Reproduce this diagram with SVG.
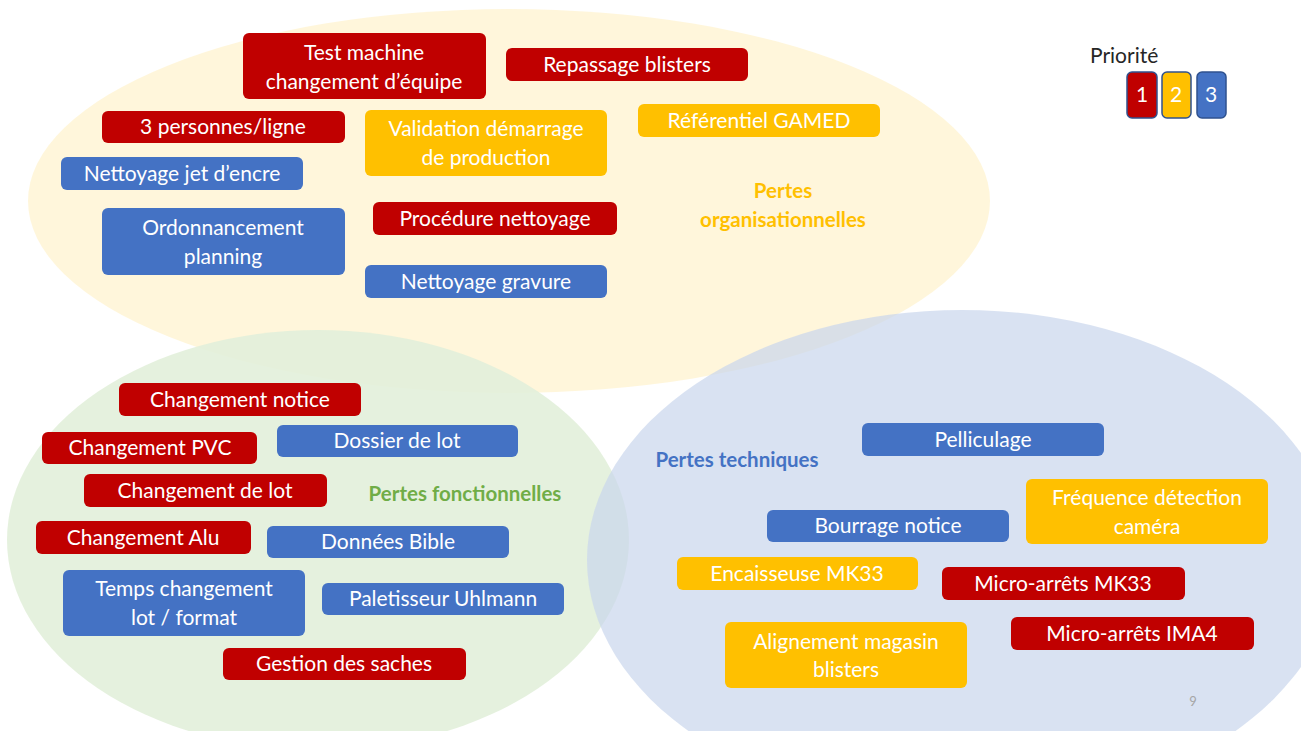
<svg xmlns="http://www.w3.org/2000/svg" width="1301" height="731" viewBox="0 0 1301 731">
<style>
text{font-family:Lato,"Open Sans","Liberation Sans",sans-serif;font-size:21px;text-anchor:middle}
.r{fill:#C00000}.y{fill:#FFC000}.b{fill:#4472C4}
.bx rect{rx:6;ry:6}
.t{fill:#FFFFFF}
.lab{font-weight:bold;font-size:20.5px}
.lg{stroke:#2F528F;stroke-width:1.5}
</style>
<rect width="1301" height="731" fill="#FFFFFF"/>
<g id="zones">
<ellipse id="zone-org" cx="509" cy="201" rx="481" ry="192" fill="#FFF2CC" fill-opacity="0.7"/>
<ellipse id="zone-fonc" cx="318" cy="540" rx="311" ry="210" fill="#E2EFDA" fill-opacity="0.9"/>
<ellipse id="zone-tech" cx="962" cy="560" rx="375" ry="250" fill="#C9D5EC" fill-opacity="0.7"/>
</g>
<g class="bx">
<g id="n-test-machine"><rect class="r" x="243" y="33" width="243" height="66"/><text class="t" x="364" y="60">Test machine</text><text class="t" x="364" y="89">changement d’équipe</text></g>
<g id="n-repassage"><rect class="r" x="506" y="48" width="242" height="33"/><text class="t" x="627" y="72">Repassage blisters</text></g>
<g id="n-3personnes"><rect class="r" x="102" y="111" width="243" height="32"/><text class="t" x="223" y="134">3 personnes/ligne</text></g>
<g id="n-validation"><rect class="y" x="365" y="110" width="242" height="66"/><text class="t" x="486" y="136">Validation démarrage</text><text class="t" x="486" y="165">de production</text></g>
<g id="n-referentiel"><rect class="y" x="638" y="104" width="242" height="33"/><text class="t" x="759" y="128">Référentiel GAMED</text></g>
<g id="n-nettoyage-jet"><rect class="b" x="61" y="157" width="242" height="33"/><text class="t" x="182" y="181">Nettoyage jet d’encre</text></g>
<g id="n-ordonnancement"><rect class="b" x="102" y="208" width="243" height="67"/><text class="t" x="223" y="235">Ordonnancement</text><text class="t" x="223" y="264">planning</text></g>
<g id="n-procedure"><rect class="r" x="373" y="202" width="244" height="33"/><text class="t" x="495" y="226">Procédure nettoyage</text></g>
<g id="n-nettoyage-gravure"><rect class="b" x="365" y="265" width="242" height="33"/><text class="t" x="486" y="289">Nettoyage gravure</text></g>
<g id="l-org"><text class="lab" fill="#FFC000" x="783" y="198">Pertes</text><text class="lab" fill="#FFC000" x="783" y="227">organisationnelles</text></g>

<g id="n-chg-notice"><rect class="r" x="119" y="383" width="242" height="33"/><text class="t" x="240" y="407">Changement notice</text></g>
<g id="n-chg-pvc"><rect class="r" x="42" y="432" width="215" height="32"/><text class="t" x="150" y="455">Changement PVC</text></g>
<g id="n-dossier"><rect class="b" x="277" y="425" width="241" height="32"/><text class="t" x="397" y="448">Dossier de lot</text></g>
<g id="n-chg-lot"><rect class="r" x="84" y="474" width="243" height="33"/><text class="t" x="205" y="498">Changement de lot</text></g>
<g id="l-fonc"><text class="lab" fill="#70AD47" x="465" y="501">Pertes fonctionnelles</text></g>
<g id="n-chg-alu"><rect class="r" x="36" y="521" width="215" height="33"/><text class="t" x="143" y="545">Changement Alu</text></g>
<g id="n-donnees"><rect class="b" x="267" y="526" width="242" height="32"/><text class="t" x="388" y="549">Données Bible</text></g>
<g id="n-temps"><rect class="b" x="63" y="570" width="242" height="66"/><text class="t" x="184" y="596">Temps changement</text><text class="t" x="184" y="625">lot / format</text></g>
<g id="n-paletisseur"><rect class="b" x="322" y="583" width="242" height="32"/><text class="t" x="443" y="606">Paletisseur Uhlmann</text></g>
<g id="n-gestion"><rect class="r" x="223" y="648" width="243" height="32"/><text class="t" x="344" y="671">Gestion des saches</text></g>

<g id="n-pelliculage"><rect class="b" x="862" y="423" width="242" height="33"/><text class="t" x="983" y="447">Pelliculage</text></g>
<g id="l-tech"><text class="lab" fill="#4472C4" x="737" y="467">Pertes techniques</text></g>
<g id="n-frequence"><rect class="y" x="1026" y="479" width="242" height="65"/><text class="t" x="1147" y="505">Fréquence détection</text><text class="t" x="1147" y="534">caméra</text></g>
<g id="n-bourrage"><rect class="b" x="767" y="510" width="242" height="32"/><text class="t" x="888" y="533">Bourrage notice</text></g>
<g id="n-encaisseuse"><rect class="y" x="677" y="557" width="241" height="33"/><text class="t" x="797" y="581">Encaisseuse MK33</text></g>
<g id="n-micro-mk33"><rect class="r" x="942" y="567" width="243" height="33"/><text class="t" x="1063" y="591">Micro-arrêts MK33</text></g>
<g id="n-alignement"><rect class="y" x="725" y="622" width="242" height="66"/><text class="t" x="846" y="649">Alignement magasin</text><text class="t" x="846" y="677">blisters</text></g>
<g id="n-micro-ima4"><rect class="r" x="1011" y="617" width="243" height="33"/><text class="t" x="1132" y="641">Micro-arrêts IMA4</text></g>
</g>
<g id="legend">
<text x="1090" y="63" fill="#262626" style="text-anchor:start">Priorité</text>
<g id="p1"><rect class="r lg" x="1127" y="72" width="30" height="46" rx="5"/><text class="t" x="1142" y="102">1</text></g>
<g id="p2"><rect class="y lg" x="1162" y="72" width="29" height="46" rx="5"/><text class="t" x="1176" y="102">2</text></g>
<g id="p3"><rect class="b lg" x="1197" y="72" width="29" height="46" rx="5"/><text class="t" x="1211" y="102">3</text></g>
</g>
<text x="1193" y="706" fill="#A6A6A6" style="font-size:13px">9</text>
</svg>
